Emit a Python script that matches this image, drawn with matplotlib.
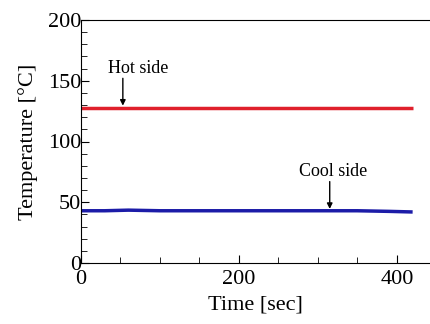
import matplotlib
matplotlib.use('Agg')
import matplotlib.pyplot as plt
from matplotlib.ticker import MultipleLocator, FixedLocator

plt.rcParams['font.family'] = ['Liberation Serif', 'DejaVu Serif']

time_s = [0, 30, 60, 100, 150, 200, 250, 300, 350, 390, 420]
hot_side = [127.5, 127.5, 127.5, 127.5, 127.5, 127.5, 127.5, 127.5, 127.5, 127.5, 127.5]
cool_side = [43.0, 43.0, 43.5, 43.0, 43.0, 43.0, 43.0, 43.0, 43.0, 42.5, 42.0]
xtick_labels = ['0', '200', '400']

fig = plt.figure(figsize=(4.3, 3.24), dpi=100)
ax = fig.add_axes([81 / 430, 61 / 324, 349 / 430, 243 / 324])

ax.plot(time_s, hot_side, color='#e0202c', linewidth=2.5, solid_capstyle='butt')
ax.plot(time_s, cool_side, color='#1c1ca8', linewidth=2.5, solid_capstyle='butt')

ax.set_xlim(0, 442)
ax.set_ylim(0, 200)
ax.spines['right'].set_visible(False)

ax.xaxis.set_major_locator(FixedLocator([0, 200, 400]))
ax.xaxis.set_minor_locator(MultipleLocator(50))
ax.set_xticklabels(xtick_labels)
ax.yaxis.set_major_locator(MultipleLocator(50))
ax.yaxis.set_minor_locator(MultipleLocator(10))
ax.tick_params(which='both', direction='in', top=False, right=False, labelsize=16)
ax.tick_params(axis='x', pad=5)
ax.tick_params(axis='y', pad=0)
ax.tick_params(which='major', length=6)
ax.tick_params(which='minor', length=4)

ax.set_xlabel('Time [sec]', fontsize=16, labelpad=5)
ax.set_ylabel('Temperature [°C]', fontsize=16, labelpad=7)

arrow = dict(arrowstyle='-|>', color='black', lw=1, mutation_scale=8, shrinkA=0, shrinkB=0)
ax.text(34, 160, 'Hot side', fontsize=13, ha='left', va='center')
ax.annotate('', xy=(53, 129.5), xytext=(53, 152), arrowprops=arrow)
ax.text(319, 75, 'Cool side', fontsize=13, ha='center', va='center')
ax.annotate('', xy=(315, 44.5), xytext=(315, 67), arrowprops=arrow)

fig.savefig('out.png', dpi=100)
